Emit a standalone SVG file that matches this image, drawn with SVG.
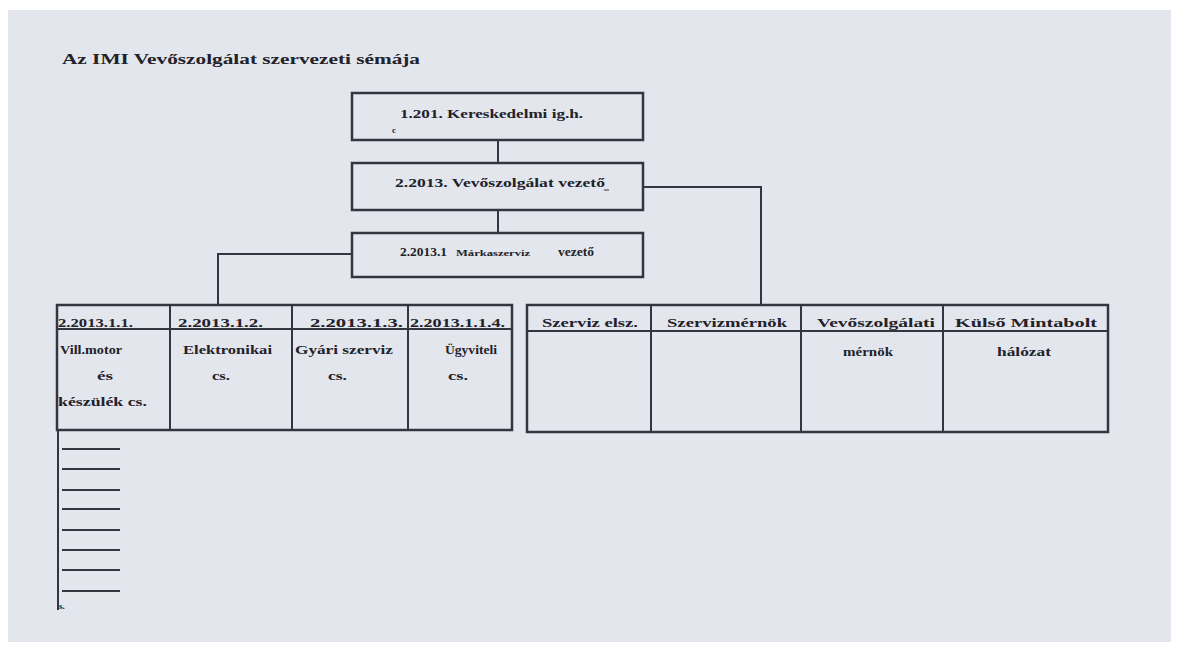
<svg xmlns="http://www.w3.org/2000/svg" width="1179" height="648" viewBox="0 0 1179 648">
<style>
.ln{stroke:#35353f;stroke-width:2;fill:none}
.bx{stroke:#35353f;stroke-width:2.5;fill:none}
.t{font-family:"Liberation Serif",serif;font-weight:bold;font-size:12px;fill:#222228}
.s{font-size:8px}
</style>
<rect x="0" y="0" width="1179" height="648" fill="#ffffff"/>
<rect x="8" y="10" width="1163" height="632" fill="#e4e6ee"/>
<text class="t" x="62" y="64" textLength="358" lengthAdjust="spacingAndGlyphs" style="font-size:14px">Az IMI Vevőszolgálat szervezeti sémája</text>

<g id="connectors">
<line class="ln" x1="498" y1="140" x2="498" y2="163"/>
<line class="ln" x1="498" y1="210" x2="498" y2="233"/>
<polyline class="ln" points="643,187 761,187 761,305"/>
<polyline class="ln" points="352,254 218,254 218,305"/>
</g>

<g id="n1">
<rect class="bx" x="352" y="93" width="291" height="47"/>
<text class="t" x="400" y="118" textLength="183" lengthAdjust="spacingAndGlyphs">1.201. Kereskedelmi ig.h.</text>
<text class="t" x="392" y="133" style="font-size:9px">c</text>
</g>
<g id="n2">
<rect class="bx" x="352" y="163" width="291" height="47"/>
<text class="t" x="395" y="187" textLength="210" lengthAdjust="spacingAndGlyphs">2.2013. Vevőszolgálat vezető</text>
<line class="ln" x1="604" y1="190" x2="609" y2="190" style="stroke-width:1"/>
</g>
<g id="n3">
<rect class="bx" x="352" y="233" width="291" height="44"/>
<text class="t" x="400" y="256" textLength="47" lengthAdjust="spacingAndGlyphs">2.2013.1</text>
<text class="t s" x="456" y="256" textLength="74" lengthAdjust="spacingAndGlyphs">Márkaszerviz</text>
<text class="t" x="558" y="256" textLength="36" lengthAdjust="spacingAndGlyphs">vezető</text>
</g>

<g id="left-table">
<rect class="bx" x="57" y="305" width="455" height="125"/>
<line class="ln" x1="57" y1="329" x2="512" y2="329"/>
<line class="ln" x1="170" y1="305" x2="170" y2="430"/>
<line class="ln" x1="292" y1="305" x2="292" y2="430"/>
<line class="ln" x1="408" y1="305" x2="408" y2="430"/>
<text class="t" x="58" y="327" textLength="75" lengthAdjust="spacingAndGlyphs">2.2013.1.1.</text>
<text class="t" x="178" y="327" textLength="85" lengthAdjust="spacingAndGlyphs">2.2013.1.2.</text>
<text class="t" x="310" y="327" textLength="93" lengthAdjust="spacingAndGlyphs">2.2013.1.3.</text>
<text class="t" x="410" y="327" textLength="95" lengthAdjust="spacingAndGlyphs">2.2013.1.1.4.</text>
<text class="t" x="60" y="354" textLength="62" lengthAdjust="spacingAndGlyphs">Vill.motor</text>
<text class="t" x="97" y="380" textLength="16" lengthAdjust="spacingAndGlyphs">és</text>
<text class="t" x="58" y="406" textLength="89" lengthAdjust="spacingAndGlyphs">készülék cs.</text>
<text class="t" x="183" y="354" textLength="89" lengthAdjust="spacingAndGlyphs">Elektronikai</text>
<text class="t" x="212" y="380" textLength="18" lengthAdjust="spacingAndGlyphs">cs.</text>
<text class="t" x="295" y="354" textLength="98" lengthAdjust="spacingAndGlyphs">Gyári szerviz</text>
<text class="t" x="328" y="380" textLength="19" lengthAdjust="spacingAndGlyphs">cs.</text>
<text class="t" x="445" y="354" textLength="52" lengthAdjust="spacingAndGlyphs">Ügyviteli</text>
<text class="t" x="448" y="380" textLength="20" lengthAdjust="spacingAndGlyphs">cs.</text>
</g>

<g id="list">
<line class="ln" x1="58" y1="430" x2="58" y2="610"/>
<line class="ln" x1="62" y1="449" x2="120" y2="449"/>
<line class="ln" x1="62" y1="469" x2="120" y2="469"/>
<line class="ln" x1="62" y1="490" x2="120" y2="490"/>
<line class="ln" x1="62" y1="509" x2="120" y2="509"/>
<line class="ln" x1="62" y1="530" x2="120" y2="530"/>
<line class="ln" x1="62" y1="550" x2="120" y2="550"/>
<line class="ln" x1="62" y1="570" x2="120" y2="570"/>
<line class="ln" x1="62" y1="591" x2="120" y2="591"/>
<text class="t" x="59" y="609" style="font-size:9px">s.</text>
</g>

<g id="right-table">
<rect class="bx" x="527" y="305" width="581" height="127"/>
<line class="ln" x1="527" y1="331" x2="1108" y2="331"/>
<line class="ln" x1="651" y1="305" x2="651" y2="432"/>
<line class="ln" x1="801" y1="305" x2="801" y2="432"/>
<line class="ln" x1="943" y1="305" x2="943" y2="432"/>
<text class="t" x="542" y="327" textLength="96" lengthAdjust="spacingAndGlyphs">Szerviz elsz.</text>
<text class="t" x="667" y="327" textLength="120" lengthAdjust="spacingAndGlyphs">Szervizmérnök</text>
<text class="t" x="817" y="327" textLength="118" lengthAdjust="spacingAndGlyphs">Vevőszolgálati</text>
<text class="t" x="955" y="327" textLength="142" lengthAdjust="spacingAndGlyphs">Külső Mintabolt</text>
<text class="t" x="843" y="356" textLength="50" lengthAdjust="spacingAndGlyphs">mérnök</text>
<text class="t" x="997" y="356" textLength="54" lengthAdjust="spacingAndGlyphs">hálózat</text>
</g>
</svg>
